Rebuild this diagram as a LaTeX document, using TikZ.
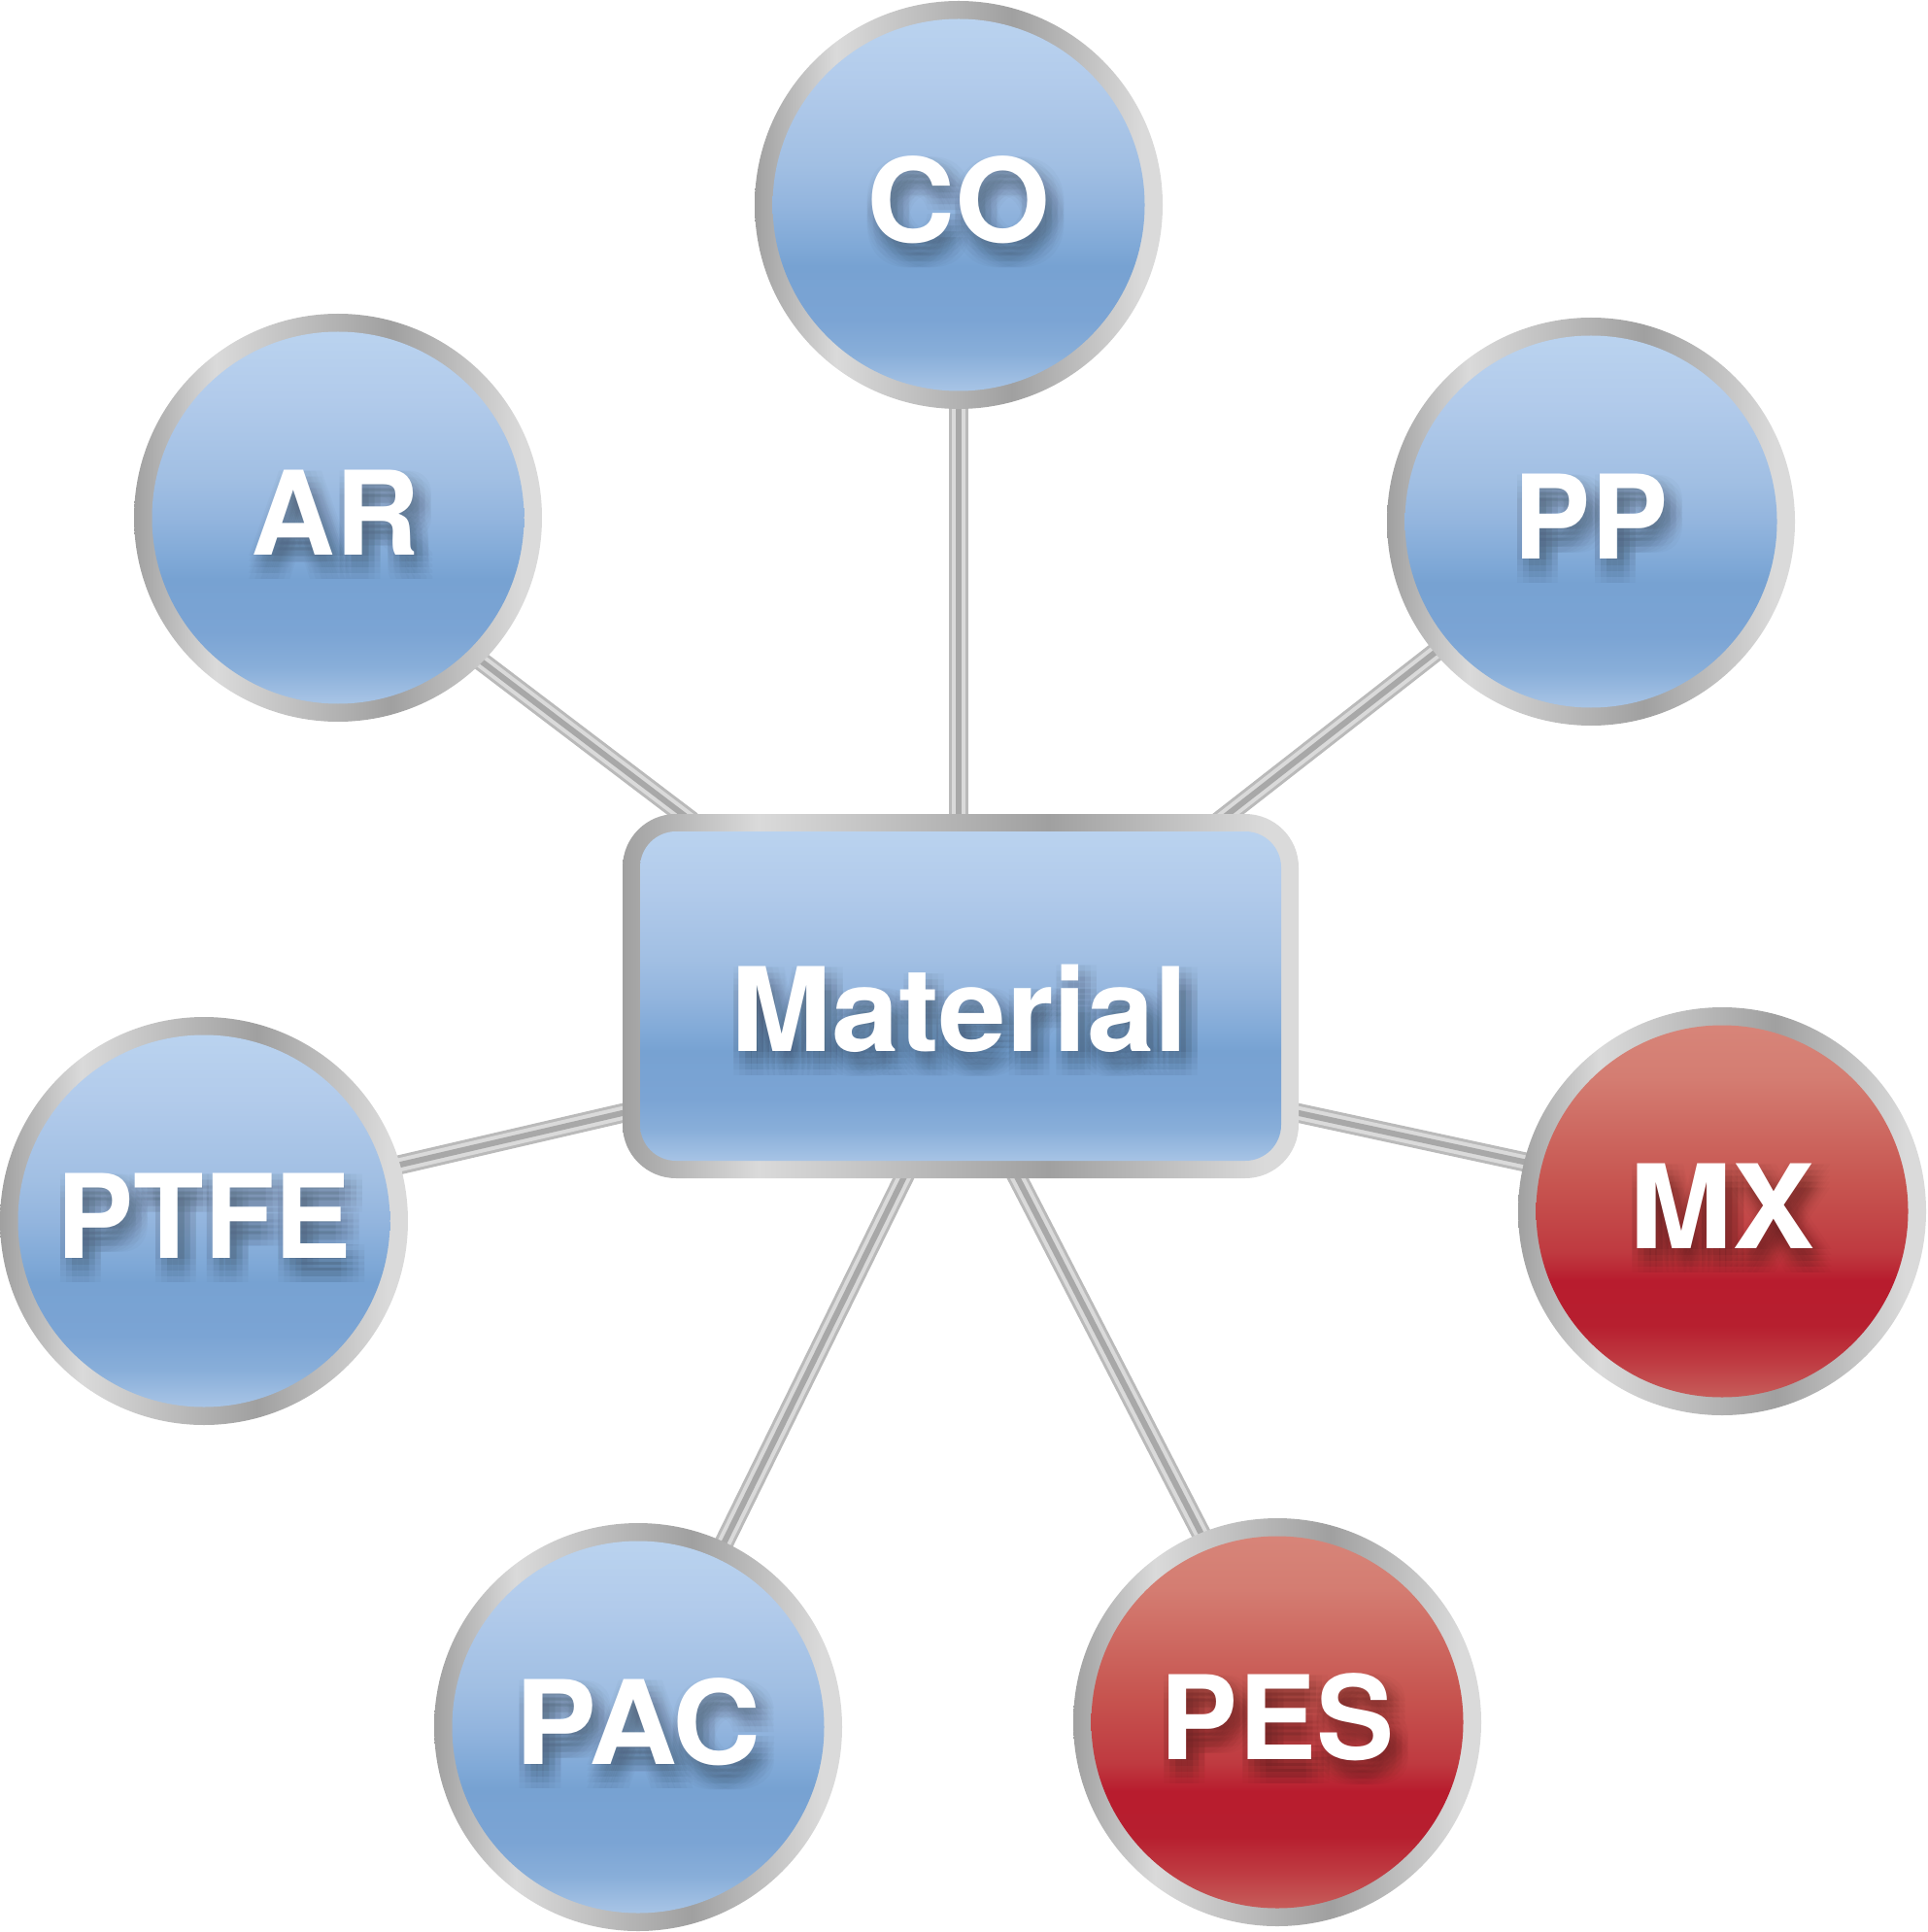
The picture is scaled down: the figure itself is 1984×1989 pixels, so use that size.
\documentclass[tikz,border=0pt]{standalone}
\usepackage{graphicx}
\usepackage{fontspec}
\setmainfont{TeX Gyre Heros}
\usetikzlibrary{calc}
\pgfdeclarelayer{background}
\pgfsetlayers{background,main}
\definecolor{rg1}{HTML}{A0A0A0}
\definecolor{rg2}{HTML}{DADADA}
\definecolor{b1}{HTML}{BCD5F0}
\definecolor{b2}{HTML}{B2CBEB}
\definecolor{b3}{HTML}{A1BFE3}
\definecolor{b4}{HTML}{93B5DE}
\definecolor{b5}{HTML}{80A9D7}
\definecolor{b6}{HTML}{77A2D2}
\definecolor{b7}{HTML}{7BA4D4}
\definecolor{b8}{HTML}{88AED9}
\definecolor{b9}{HTML}{A6C3E5}
\definecolor{b10}{HTML}{BAD2EE}
\definecolor{r1}{HTML}{D8877B}
\definecolor{r2}{HTML}{D47D72}
\definecolor{r3}{HTML}{C75550}
\definecolor{r4}{HTML}{BF3A40}
\definecolor{r5}{HTML}{B81C2E}
\definecolor{r6}{HTML}{B71F2F}
\definecolor{r7}{HTML}{BE3840}
\definecolor{r8}{HTML}{C65A58}
\definecolor{r9}{HTML}{D0736C}
\definecolor{tubemid}{HTML}{BABABA}
\definecolor{tubelight}{HTML}{DADADA}
\definecolor{tubedark}{HTML}{A8A8A8}
\pgfdeclarehorizontalshading{ringsh}{100bp}{color(0bp)=(rg1); color(25bp)=(rg1); color(35bp)=(rg2); color(56.5bp)=(rg1); color(72.5bp)=(rg2); color(100bp)=(rg2)}
\pgfdeclareverticalshading{bluesh}{100bp}{color(0bp)=(b10); color(25bp)=(b10); color(27.5bp)=(b9); color(31.75bp)=(b8); color(36bp)=(b7); color(42.5bp)=(b6); color(45bp)=(b5); color(50bp)=(b4); color(55bp)=(b3); color(65bp)=(b2); color(75bp)=(b1); color(100bp)=(b1)}
\pgfdeclareverticalshading{redsh}{100bp}{color(0bp)=(r9); color(25bp)=(r9); color(27.5bp)=(r8); color(32bp)=(r7); color(36bp)=(r6); color(41.5bp)=(r5); color(45bp)=(r4); color(53.5bp)=(r3); color(66.5bp)=(r2); color(75bp)=(r1); color(100bp)=(r1)}
\tikzset{
  ringc/.style={circle, inner sep=0pt, minimum size=210pt, shade, shading=ringsh},
  bluec/.style={ringc, path picture={\shade[shading=bluesh] (path picture bounding box.center) circle (95.75pt);}},
  redc/.style={ringc, path picture={\shade[shading=redsh] (path picture bounding box.center) circle (95.75pt);}},
  matbox/.style={rectangle, rounded corners=27.5pt, minimum width=348pt, minimum height=187.5pt, inner sep=0pt, shade, shading=ringsh,
    path picture={\shade[shading=bluesh, rounded corners=18.5pt] ($(path picture bounding box.south west)+(9pt,9pt)$) rectangle ($(path picture bounding box.north east)+(-9pt,-9pt)$);}},
  lbl/.style={text=white, font=\fontsize{60}{60}\selectfont\bfseries, inner sep=0pt},
  shadowlbl/.style={lbl, text=black, text opacity=0.019},
  tube/.style={draw=tubemid, line width=10pt, postaction={draw=tubelight, line width=7pt}, postaction={draw=tubedark, line width=3pt}}
}
\newcommand\shlabel[5]{%
  \foreach \i [count=\ci] in {-12,-6,0,6,12}{%
    \foreach \j [count=\cj] in {-12,-6,0,6,12}{%
      \node[shadowlbl] (#1s\ci\cj) at ($(#1)+({#2+7+\i},{#3+13+\j})$) {\scalebox{#5}[1]{#4}};}}%
  \node[lbl] (#1t) at ($(#1)+(#2,#3)$) {\scalebox{#5}[1]{#4}};}
\newcommand\tubeline[2]{\draw[tube] ($(#1)!-0.05!(#2)$) -- ($(#1)!1.05!(#2)$);}
\begin{document}
\begin{tikzpicture}[x=0.5pt,y=-0.5pt]
\useasboundingbox (0,0) rectangle (1984,1989);
\node[matbox] (mat) at (989,1025.5) {};
\node[bluec] (CO) at (987,211) {};
\node[bluec] (AR) at (348,533) {};
\node[bluec] (PP) at (1638,537) {};
\node[bluec] (PTFE) at (210,1257) {};
\node[redc] (MX) at (1773,1247) {};
\node[bluec] (PAC) at (657,1778) {};
\node[redc] (PES) at (1315,1773) {};
\shlabel{mat}{-1}{13}{Material}{1.04}
\shlabel{CO}{0}{-5}{CO}{1.05}
\shlabel{AR}{-3}{-5}{AR}{1.0}
\shlabel{PP}{0}{-5}{PP}{0.99}
\shlabel{PTFE}{0}{-5}{PTFE}{0.99}
\shlabel{MX}{0}{-5}{MX}{1.065}
\shlabel{PAC}{0}{-5}{PAC}{1.05}
\shlabel{PES}{0}{-5}{PES}{1.0}
\coordinate (coS) at ($(CO.south)+(0,-10)$);
\coordinate (coE) at ($(CO.south |- mat.north)+(0,10)$);
\coordinate (arE) at ($(mat.north)+(-287,0)$);
\coordinate (ppE) at ($(mat.north)+(276,0)$);
\coordinate (ptE) at ($(mat.west)+(0,120.5)$);
\coordinate (mxE) at ($(mat.east)+(0,120.5)$);
\coordinate (paE) at ($(mat.south)+(-59,0)$);
\coordinate (peE) at ($(mat.south)+(59,0)$);
\begin{pgfonlayer}{background}
\draw[tube] (coS) -- (coE);
\tubeline{AR.-45}{arE}
\tubeline{PP.-140}{ppE}
\tubeline{PTFE.16}{ptE}
\tubeline{MX.166}{mxE}
\tubeline{PAC.65.8}{paE}
\tubeline{PES.112}{peE}
\end{pgfonlayer}
\end{tikzpicture}
\end{document}
